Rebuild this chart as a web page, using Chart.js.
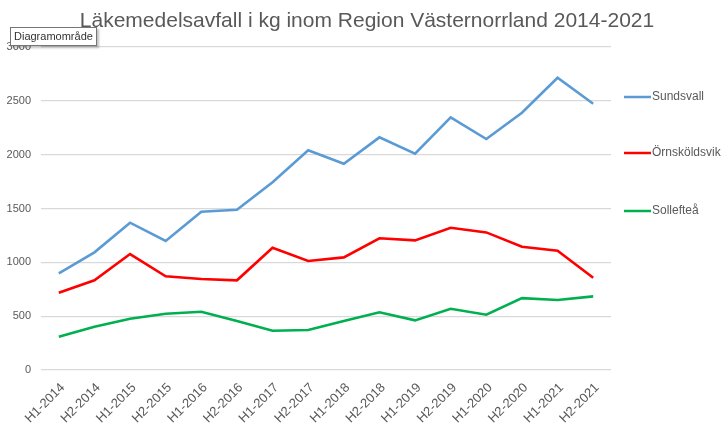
<!DOCTYPE html>
<html><head><meta charset="utf-8">
<script src="https://cdn.jsdelivr.net/npm/chart.js@4"></script>
<style>
html,body{margin:0;padding:0;background:#fff;}
#wrap{position:relative;width:722px;height:429px;overflow:hidden;}
#tip{position:absolute;left:10px;top:27px;height:17px;padding:0 3px;border:1px solid #767676;background:#fff;font:11px "Liberation Sans",Arial,sans-serif;line-height:17px;color:#333;box-shadow:2px 2px 2px rgba(0,0,0,0.25);}
</style></head>
<body><div id="wrap"><canvas id="c" width="722" height="429"></canvas><div id="tip">Diagramområde</div></div>
<script>
const categories = ["H1-2014","H2-2014","H1-2015","H2-2015","H1-2016","H2-2016","H1-2017","H2-2017","H1-2018","H2-2018","H1-2019","H2-2019","H1-2020","H2-2020","H1-2021","H2-2021"];
const sundsvall = [898,1093,1368,1198,1470,1489,1743,2040,1916,2161,2009,2347,2145,2389,2714,2473];
const ornskoldsvik = [718,833,1077,870,845,833,1136,1012,1046,1223,1204,1321,1278,1145,1108,857];
const solleftea = [309,402,476,523,541,455,365,371,455,536,461,569,513,668,650,684];
const yTicks = [0,500,1000,1500,2000,2500,3000];
const titleText = "Läkemedelsavfall i kg inom Region Västernorrland 2014-2021";

const FONT = '"Liberation Sans", Arial, sans-serif';

const titlePlugin = {
  id:'customTitle',
  afterDraw(chart){
    const ctx = chart.ctx;
    ctx.save();
    ctx.fillStyle = '#595959';
    ctx.font = '21px ' + FONT;
    ctx.textAlign = 'center';
    ctx.textBaseline = 'middle';
    ctx.fillText(titleText, 367, 21);
    ctx.restore();
  }
};

const legendPlugin = {
  id:'sideLegend',
  afterDraw(chart){
    const ctx = chart.ctx;
    const ys = [97,153,211];
    ctx.save();
    chart.data.datasets.forEach((ds,i)=>{
      ctx.strokeStyle = ds.borderColor;
      ctx.lineWidth = 2.5;
      ctx.beginPath();
      ctx.moveTo(624, ys[i]); ctx.lineTo(651, ys[i]); ctx.stroke();
      ctx.fillStyle = '#595959';
      ctx.font = '12px ' + FONT;
      ctx.textBaseline = 'middle';
      ctx.fillText(ds.label, 652, ys[i]);
    });
    ctx.restore();
  }
};

new Chart(document.getElementById('c'), {
  type:'line',
  data:{
    labels: categories,
    datasets:[
      {label:'Sundsvall', data:sundsvall, borderColor:'#5B9BD5', backgroundColor:'#5B9BD5'},
      {label:'Örnsköldsvik', data:ornskoldsvik, borderColor:'#FF0000', backgroundColor:'#FF0000'},
      {label:'Sollefteå', data:solleftea, borderColor:'#00B050', backgroundColor:'#00B050'}
    ]
  },
  options:{
    responsive:false, animation:false,
    elements:{line:{borderWidth:2.6, tension:0}, point:{radius:0}},
    layout:{padding:{left:0,right:111,top:47,bottom:0}},
    plugins:{legend:{display:false}, tooltip:{enabled:false}, title:{display:false}},
    scales:{
      x:{offset:true, grid:{display:false}, border:{display:false},
         ticks:{color:'#595959', font:{family:FONT, size:13}, maxRotation:45, minRotation:45, autoSkip:false, padding:2, labelOffset:4},
         afterFit(s){s.height=59;}},
      y:{min:0,max:3000, afterBuildTicks(s){s.ticks = yTicks.map(v=>({value:v}));},
         grid:{color:'#D9D9D9', lineWidth:1.3, drawTicks:false}, border:{display:false},
         ticks:{color:'#595959', font:{family:FONT, size:11}, padding:10, callback:(v)=>String(v)},
         afterFit(s){s.width=41;}}
    }
  },
  plugins:[titlePlugin, legendPlugin]
});
</script></body></html>
